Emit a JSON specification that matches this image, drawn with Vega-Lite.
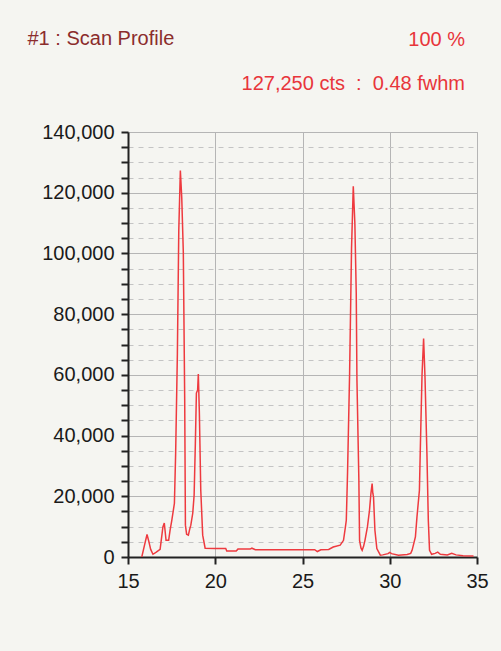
{
  "$schema": "https://vega.github.io/schema/vega-lite/v6.json",
  "autosize": "none",
  "width": 349,
  "height": 425,
  "padding": {"left": 128, "top": 132, "right": 24, "bottom": 94},
  "background": "#f5f5f1",
  "title": {
    "text": "100 %",
    "subtitle": "127,250 cts \u00a0:\u00a0 0.48 fwhm",
    "anchor": "end",
    "frame": "group",
    "dx": -12,
    "dy": 104,
    "offset": 38,
    "font": "Liberation Sans",
    "fontSize": 20,
    "fontWeight": "normal",
    "color": "#e8353b",
    "subtitleFont": "Liberation Sans",
    "subtitleFontSize": 20,
    "subtitleColor": "#e8353b",
    "subtitlePadding": 24
  },
  "config": {
    "view": {"stroke": "#b5b5b5", "strokeWidth": 1},
    "axis": {
      "labelFont": "Liberation Sans",
      "labelFontSize": 20,
      "labelColor": "#1a1a1a",
      "domainColor": "#222222",
      "domainWidth": 2,
      "tickColor": "#222222",
      "tickWidth": 2,
      "tickSize": 7
    }
  },
  "data": {
    "values": [
      {"angle": 15.79, "counts": 0},
      {"angle": 15.95, "counts": 4000},
      {"angle": 16.09, "counts": 7400},
      {"angle": 16.2, "counts": 5000},
      {"angle": 16.3, "counts": 2500},
      {"angle": 16.43, "counts": 900},
      {"angle": 16.6, "counts": 1500},
      {"angle": 16.84, "counts": 2500},
      {"angle": 16.93, "counts": 6600},
      {"angle": 17.0, "counts": 9900},
      {"angle": 17.08, "counts": 11200},
      {"angle": 17.18, "counts": 5500},
      {"angle": 17.33, "counts": 5500},
      {"angle": 17.41, "counts": 8800},
      {"angle": 17.51, "counts": 12100},
      {"angle": 17.66, "counts": 17700},
      {"angle": 17.73, "counts": 34000},
      {"angle": 17.83, "counts": 67000},
      {"angle": 17.91, "counts": 107500},
      {"angle": 18.0, "counts": 127300},
      {"angle": 18.08, "counts": 118400},
      {"angle": 18.17, "counts": 100400},
      {"angle": 18.25, "counts": 51400},
      {"angle": 18.29, "counts": 10500},
      {"angle": 18.36, "counts": 7500},
      {"angle": 18.46, "counts": 7200},
      {"angle": 18.53, "counts": 9000},
      {"angle": 18.6, "counts": 10500},
      {"angle": 18.71, "counts": 14400},
      {"angle": 18.79, "counts": 20400},
      {"angle": 18.86, "counts": 37500},
      {"angle": 18.92, "counts": 54000},
      {"angle": 18.99, "counts": 55000},
      {"angle": 19.03, "counts": 60300},
      {"angle": 19.09, "counts": 47400},
      {"angle": 19.17, "counts": 22000},
      {"angle": 19.28, "counts": 7200},
      {"angle": 19.42, "counts": 2900},
      {"angle": 20.0, "counts": 2800},
      {"angle": 20.6, "counts": 2800},
      {"angle": 20.66, "counts": 2000},
      {"angle": 21.2, "counts": 2000},
      {"angle": 21.3, "counts": 2600},
      {"angle": 22.0, "counts": 2600},
      {"angle": 22.1, "counts": 2900},
      {"angle": 22.3, "counts": 2400},
      {"angle": 23.5, "counts": 2400},
      {"angle": 24.5, "counts": 2400},
      {"angle": 25.7, "counts": 2400},
      {"angle": 25.85, "counts": 1800},
      {"angle": 26.05, "counts": 2400},
      {"angle": 26.5, "counts": 2500},
      {"angle": 26.76, "counts": 3300},
      {"angle": 27.16, "counts": 3900},
      {"angle": 27.35, "counts": 5500},
      {"angle": 27.45, "counts": 9500},
      {"angle": 27.51, "counts": 12100},
      {"angle": 27.58, "counts": 27500},
      {"angle": 27.7, "counts": 60500},
      {"angle": 27.81, "counts": 101700},
      {"angle": 27.91, "counts": 122100},
      {"angle": 28.0, "counts": 110000},
      {"angle": 28.08, "counts": 86900},
      {"angle": 28.12, "counts": 58300},
      {"angle": 28.23, "counts": 25300},
      {"angle": 28.27, "counts": 5500},
      {"angle": 28.35, "counts": 3000},
      {"angle": 28.42, "counts": 2200},
      {"angle": 28.5, "counts": 3500},
      {"angle": 28.58, "counts": 5500},
      {"angle": 28.72, "counts": 9900},
      {"angle": 28.84, "counts": 15400},
      {"angle": 28.92, "counts": 20900},
      {"angle": 28.99, "counts": 24200},
      {"angle": 29.03, "counts": 21000},
      {"angle": 29.07, "counts": 19800},
      {"angle": 29.15, "counts": 8800},
      {"angle": 29.26, "counts": 2800},
      {"angle": 29.46, "counts": 600},
      {"angle": 29.6, "counts": 700},
      {"angle": 29.9, "counts": 1100},
      {"angle": 30.0, "counts": 1500},
      {"angle": 30.1, "counts": 1100},
      {"angle": 30.5, "counts": 600},
      {"angle": 31.0, "counts": 800},
      {"angle": 31.2, "counts": 1200},
      {"angle": 31.28, "counts": 2200},
      {"angle": 31.47, "counts": 6600},
      {"angle": 31.56, "counts": 13200},
      {"angle": 31.7, "counts": 22000},
      {"angle": 31.75, "counts": 35200},
      {"angle": 31.85, "counts": 60000},
      {"angle": 31.94, "counts": 72000},
      {"angle": 32.02, "counts": 59200},
      {"angle": 32.13, "counts": 34100},
      {"angle": 32.21, "counts": 12100},
      {"angle": 32.28, "counts": 2200},
      {"angle": 32.4, "counts": 900},
      {"angle": 32.6, "counts": 1200},
      {"angle": 32.75, "counts": 1600},
      {"angle": 32.9, "counts": 900},
      {"angle": 33.3, "counts": 700},
      {"angle": 33.55, "counts": 1200},
      {"angle": 33.8, "counts": 700},
      {"angle": 34.2, "counts": 400},
      {"angle": 34.8, "counts": 300}
    ]
  },
  "mark": {"type": "line", "color": "#ee3a3f", "strokeWidth": 1.5, "clip": true},
  "encoding": {
    "x": {
      "field": "angle",
      "type": "quantitative",
      "scale": {"domain": [15, 35], "nice": false, "zero": false},
      "axis": {
        "title": null,
        "values": [15, 20, 25, 30, 35],
        "grid": true,
        "gridColor": "#b5b5b5",
        "gridWidth": 1,
        "labelPadding": 7,
        "labelFlush": false
      }
    },
    "y": {
      "field": "counts",
      "type": "quantitative",
      "scale": {"domain": [0, 140000], "nice": false},
      "axis": {
        "title": "#1 : Scan Profile",
        "titleAngle": 0,
        "titleAlign": "left",
        "titleBaseline": "middle",
        "titleX": -101,
        "titleY": -94,
        "titleFont": "Liberation Sans",
        "titleFontSize": 20,
        "titleFontWeight": "normal",
        "titleColor": "#8b2c2c",
        "values": [0, 5000, 10000, 15000, 20000, 25000, 30000, 35000, 40000, 45000, 50000, 55000, 60000, 65000, 70000, 75000, 80000, 85000, 90000, 95000, 100000, 105000, 110000, 115000, 120000, 125000, 130000, 135000, 140000],
        "labelExpr": "datum.value % 20000 === 0 ? format(datum.value, ',') : ''",
        "labelPadding": 7,
        "labelFlush": false,
        "grid": true,
        "gridColor": {"condition": {"test": "datum.value % 20000 === 0", "value": "#b5b5b5"}, "value": "#c4c4c4"},
        "gridDash": {"condition": {"test": "datum.value % 20000 === 0", "value": []}, "value": [5, 5]},
        "gridWidth": 1
      }
    }
  }
}
